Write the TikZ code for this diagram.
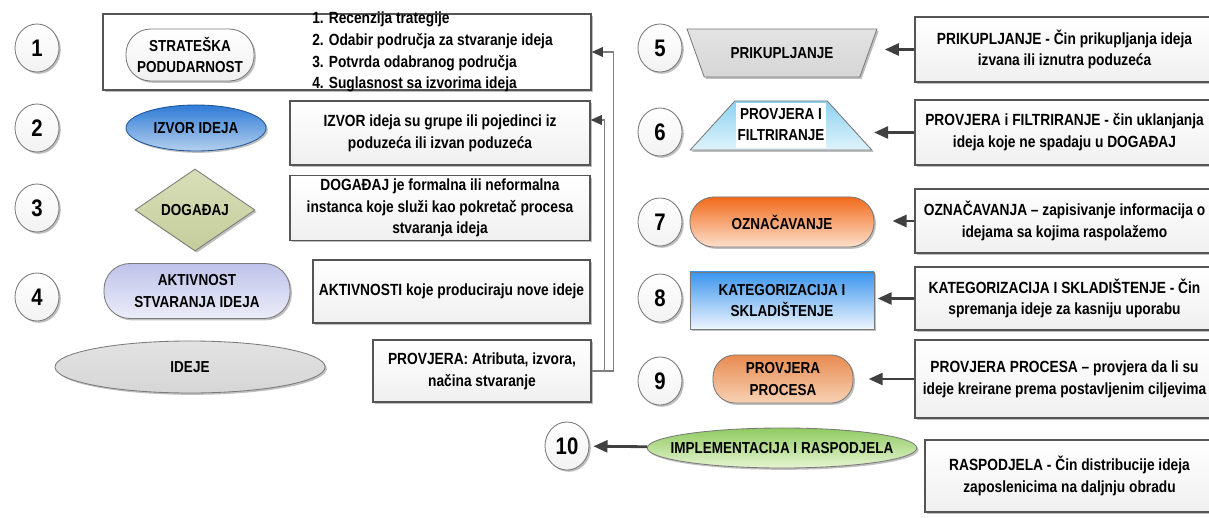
\documentclass[tikz,border=0pt]{standalone}
\usepackage{fontspec}
\setmainfont{Liberation Sans}[FakeStretch=0.85]
\usepackage{tikz}
\usetikzlibrary{arrows.meta,positioning,shapes.geometric,shadows}
\definecolor{boxline}{HTML}{555555}
\definecolor{shapeline}{HTML}{7A7A7A}
\definecolor{arrowgray}{HTML}{404040}
\definecolor{linkgray}{HTML}{7F7F7F}
\definecolor{izvtop}{HTML}{2E7BD6}
\definecolor{izvbot}{HTML}{B5D0EE}
\definecolor{dogtop}{HTML}{D8DEB8}
\definecolor{dogbot}{HTML}{C5CD9B}
\definecolor{akttop}{HTML}{BFC3EA}
\definecolor{aktbot}{HTML}{ECEDF9}
\definecolor{ideje}{HTML}{D6D6D6}
\definecolor{filttop}{HTML}{8CD2F2}
\definecolor{filtbot}{HTML}{E0F3FB}
\definecolor{oznatop}{HTML}{F26A1B}
\definecolor{oznabot}{HTML}{FCE0CC}
\definecolor{katetop}{HTML}{3A95EE}
\definecolor{katebot}{HTML}{EEF5FD}
\definecolor{proctop}{HTML}{E88B50}
\definecolor{procbot}{HTML}{F7D2B5}
\definecolor{impltop}{HTML}{8FCB60}
\definecolor{implbot}{HTML}{E6F4D2}
\newcommand\descfont{\fontsize{11.5}{15.5}\selectfont\bfseries}
\newcommand\shapefont{\fontsize{11.3}{15}\selectfont\bfseries}
\newcommand\numfont{\fontsize{17}{19}\selectfont\bfseries}

\begin{document}
\begin{tikzpicture}[
  x=0.025cm, y=-0.025cm,
  softshadow/.style={drop shadow={shadow xshift=1.3pt, shadow yshift=-1.3pt, opacity=0.25, fill=black}},
  numcircle/.style={ellipse, draw=shapeline, line width=0.6pt, top color=white, bottom color=gray!10, minimum width=1.1cm, minimum height=1.2cm, inner sep=0pt, font=\numfont, softshadow},
  descbox/.style={draw=boxline, line width=0.9pt, top color=white, bottom color=gray!12, align=center, inner sep=2pt, font=\descfont, softshadow},
  stage/.style={draw=shapeline, line width=0.6pt, align=center, inner sep=1pt, font=\shapefont, softshadow},
  arrow/.style={-{Triangle[length=10pt, width=8.5pt]}, line width=2pt, color=arrowgray},
  link/.style={-{Triangle[length=8pt, width=7pt, color=arrowgray]}, line width=0.8pt, draw=linkgray}
]
\fill[white] (0,0) rectangle (1209,518);
\useasboundingbox (0,0) rectangle (1209,518);
\clip (0,0) rectangle (1209,518);

\node[numcircle] (c1) at (37,48) {1};
\node[numcircle] (c2) at (37,128) {2};
\node[numcircle] (c3) at (37,208) {3};
\node[numcircle] (c4) at (37,297) {4};
\node[numcircle] (c5) at (660,48) {5};
\node[numcircle] (c6) at (660,132) {6};
\node[numcircle] (c7) at (660,222) {7};
\node[numcircle] (c8) at (660,298) {8};
\node[numcircle] (c9) at (660,381) {9};
\node[numcircle] (c10) at (567,446) {10};

\node[descbox, minimum width=12.2cm, minimum height=1.9cm, bottom color=white] (strat) at (347,52) {};
\node[stage, rounded corners=0.62cm, minimum width=3.2cm, minimum height=1.3cm, top color=white, bottom color=gray!12] (podud) at (190,55) {STRATEŠKA\\PODUDARNOST};
\node[anchor=west, align=left, inner sep=0pt, font=\descfont] (steps) at (312,52) {1. Recenzija trategije\\2. Odabir područja za stvaranje ideja\\3. Potvrda odabranog područja\\4. Suglasnost sa izvorima ideja};

\node[stage, ellipse, minimum width=3.5cm, minimum height=1.15cm, top color=izvtop, bottom color=izvbot, draw=izvtop!70!black] (izvor) at (196,128) {IZVOR IDEJA};
\node[descbox, minimum width=7.5cm, minimum height=1.6cm] (izvord) at (440,133) {IZVOR ideja su grupe ili pojedinci iz\\poduzeća ili izvan poduzeća};

\node[stage, diamond, aspect=1.46, minimum width=3cm, minimum height=2.05cm, top color=dogtop, bottom color=dogbot] (dog) at (195,210) {DOGAĐAJ};
\node[descbox, minimum width=7.5cm, minimum height=1.6cm] (dogd) at (440,208) {DOGAĐAJ je formalna ili neformalna\\instanca koje služi kao pokretač procesa\\stvaranja ideja};

\node[stage, rounded corners=0.65cm, minimum width=4.65cm, minimum height=1.375cm, top color=akttop, bottom color=aktbot] (akt) at (197,291) {AKTIVNOST\\STVARANJA IDEJA};
\node[descbox, minimum width=6.925cm, minimum height=1.575cm] (aktd) at (451.5,291.5) {AKTIVNOSTI koje produciraju nove ideje};

\node[stage, ellipse, minimum width=6.75cm, minimum height=1.3cm, top color=ideje!70!white, bottom color=ideje] (ideje) at (190,367) {IDEJE};
\node[descbox, minimum width=5.45cm, minimum height=1.55cm] (prov) at (482,371) {PROVJERA: Atributa, izvora,\\načina stvaranje};

\node[stage, trapezium, trapezium angle=50, trapezium stretches=true, shape border rotate=180, minimum width=4.75cm, minimum height=1.2cm, top color=gray!22, bottom color=gray!32] (prik) at (782,53) {PRIKUPLJANJE};
\node[descbox, minimum width=7.475cm, minimum height=1.625cm] (prikd) at (1064.5,49.5) {PRIKUPLJANJE - Čin prikupljanja ideja\\izvana ili iznutra poduzeća};

\node[stage, trapezium, trapezium angle=47, trapezium stretches=true, minimum width=4.325cm, minimum height=1.225cm, top color=filttop, bottom color=filtbot] (filt) at (781,125.5) {\setlength\fboxsep{1pt}\colorbox{white}{\begin{tabular}{@{}c@{}}PROVJERA I\\FILTRIRANJE\end{tabular}}};
\node[descbox, minimum width=7.475cm, minimum height=1.625cm] (filtd) at (1064.5,132.5) {PROVJERA i FILTRIRANJE - čin uklanjanja\\ideja koje ne spadaju u DOGAĐAJ};

\node[stage, rounded corners=0.6cm, minimum width=4.6cm, minimum height=1.25cm, top color=oznatop, bottom color=oznabot] (ozna) at (782,222) {OZNAČAVANJE};
\node[descbox, minimum width=7.475cm, minimum height=1.6cm] (oznad) at (1064.5,221) {OZNAČAVANJA -- zapisivanje informacija o\\idejama sa kojima raspolažemo};

\node[stage, minimum width=4.6cm, minimum height=1.425cm, top color=katetop, bottom color=katebot] (kate) at (782,300.5) {KATEGORIZACIJA I\\SKLADIŠTENJE};
\node[descbox, minimum width=7.475cm, minimum height=1.575cm] (kated) at (1064.5,298.5) {KATEGORIZACIJA I SKLADIŠTENJE - Čin\\spremanja ideje za kasniju uporabu};

\node[stage, rounded corners=0.55cm, minimum width=3.5cm, minimum height=1.2cm, top color=proctop, bottom color=procbot] (proc) at (783,379) {PROVJERA\\PROCESA};
\node[descbox, minimum width=7.475cm, minimum height=1.95cm] (procd) at (1064.5,379) {PROVJERA PROCESA -- provjera da li su\\ideje kreirane prema postavljenim ciljevima};

\node[stage, ellipse, inner xsep=-0.4cm, minimum width=6.6cm, minimum height=1cm, top color=impltop, bottom color=implbot] (impl) at (782,448) {IMPLEMENTACIJA I RASPODJELA};
\node[descbox, minimum width=7.225cm, minimum height=1.8cm] (impld) at (1069.5,476) {RASPODJELA - Čin distribucije ideja\\zaposlenicima na daljnju obradu};

\draw[link] (prov.east) -- ++(22,0) |- (strat.east);
\draw[link] (prov.east) -- ++(13,0) |- ([yshift=0.325cm]izvord.east);
\draw[arrow, shorten >=0.4cm] (prikd.west) -- (prikd.west -| prik.east);
\draw[arrow, shorten >=0.6cm] (filtd.west) -- (filtd.west -| filt.east);
\draw[arrow, shorten >=0.45cm] (oznad.west) -- (oznad.west -| ozna.east);
\draw[arrow, shorten >=0.08cm] (kated.west) -- (kated.west -| kate.east);
\draw[arrow, shorten >=0.38cm] (procd.west) -- (procd.west -| proc.east);
\draw[arrow, shorten >=0.1cm] (impl) -- (c10);
\end{tikzpicture}
\end{document}
